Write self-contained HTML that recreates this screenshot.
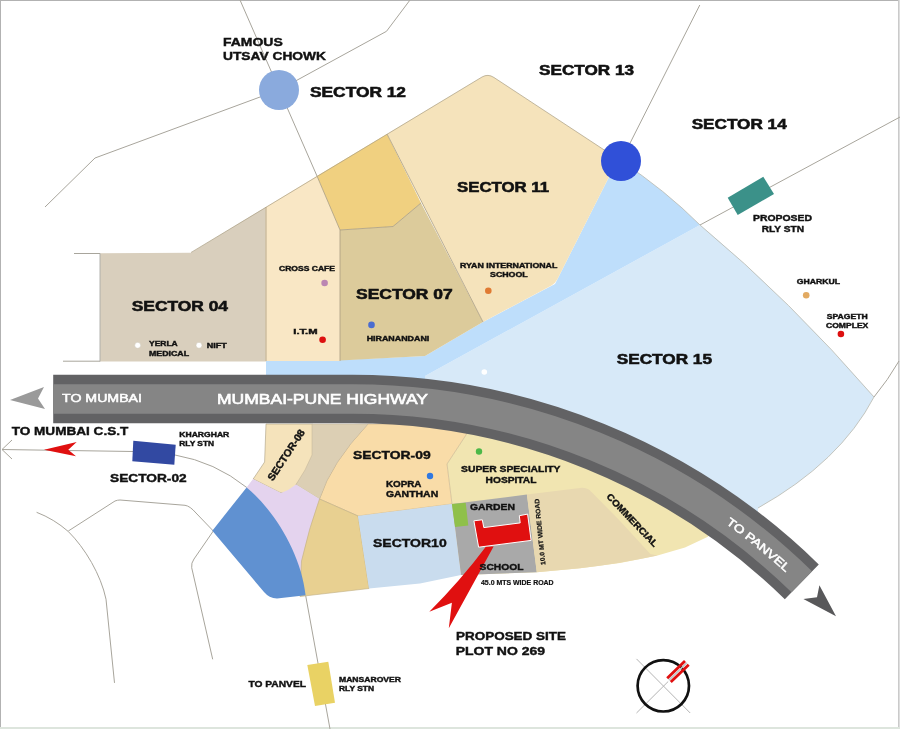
<!DOCTYPE html>
<html><head><meta charset="utf-8"><title>Location Map</title>
<style>
html,body{margin:0;padding:0;background:#fff;}
body{width:900px;height:729px;overflow:hidden;}
svg{display:block;font-family:"Liberation Sans",sans-serif;will-change:transform;}
</style></head><body>
<svg width="900" height="729" viewBox="0 0 900 729">
<rect x="0" y="0" width="900" height="729" fill="#ffffff"/>
<rect x="0" y="0" width="900" height="1" fill="#b2b2b2"/>
<rect x="0" y="0" width="1" height="729" fill="#b2b2b2"/>
<rect x="898" y="0" width="1" height="729" fill="#cacaca"/>
<rect x="899" y="0" width="1" height="729" fill="#dedede"/>
<rect x="0" y="727" width="900" height="2" fill="#dde5dd"/>
<path d="M45,207 L95,158 L279,90 L386.5,31.3 L410,0" fill="none" stroke="#a8a59c" stroke-width="1" />
<path d="M240,0 L317,176" fill="none" stroke="#a8a59c" stroke-width="1" />
<path d="M621,161 L699.8,5" fill="none" stroke="#a8a59c" stroke-width="1" />
<path d="M700,225 L900,117" fill="none" stroke="#a8a59c" stroke-width="1" />
<path d="M74,253.5 L100,253.5 M63,361.2 L100,361.2" fill="none" stroke="#a8a59c" stroke-width="1" />
<path d="M874,397 Q888,380 899,361" fill="none" stroke="#a8a59c" stroke-width="1" />
<path d="M36.6,512.3 Q54,519 68.3,531.5 C85,548 101,575 106,599.2 L114.5,682.9" fill="none" stroke="#a8a59c" stroke-width="1" />
<path d="M68.3,531 L115,501 Q117.5,500 120,500 L185,505.3 Q190,506 196,513 L213.3,531" fill="none" stroke="#a8a59c" stroke-width="1" />
<path d="M213.3,531 L194,559 Q191,563 191.7,567.7 L212.7,659.3" fill="none" stroke="#a8a59c" stroke-width="1" />
<path d="M2,449.5 L133,451.5 L175,455 Q215,462 246.6,487.4 C272,508 301,552 305.6,595.2 L330,729" fill="none" stroke="#a8a59c" stroke-width="1" />
<path d="M12,440 L2,449.5 L12,459" fill="none" stroke="#a8a59c" stroke-width="1" />
<path d="M425,376 L700,225 Q790,300 874,397 Q840,462 758,508 L758.0,542.8 A643,643 0 0 0 425.0,403.1 Z" fill="#d7e9f8" stroke="none" stroke-width="1" />
<path d="M700,225 Q790,300 874,397 Q840,462 758,508" fill="none" stroke="#b9b9ae" stroke-width="0.8" />
<path d="M621,161 Q665,190 700,225 L425,376 L425,392 L266,392 L266,361 L340,360 L425,356 L483,322 L555,284 L610,175 Z" fill="#bedefb" stroke="none" stroke-width="1" />
<path d="M621,161 Q665,190 700,225" fill="none" stroke="#b9b9ae" stroke-width="0.8" />
<polygon points="100.0,253.3 191.0,252.8 266.0,207.0 266.0,361.5 100.0,361.5" fill="#d9cfbd" stroke="none" stroke-width="0.5" />
<polygon points="265.5,207.3 317.0,176.0 340.0,230.0 340.0,361.0 265.5,361.0" fill="#f9e7c5" stroke="none" stroke-width="0.5" />
<polygon points="317.0,176.0 387.0,134.0 421.0,203.0 393.0,226.5 340.0,230.0" fill="#f0d080" stroke="none" stroke-width="0.5" />
<polygon points="340.0,230.0 393.0,226.5 421.0,203.0 483.0,322.0 425.0,356.0 340.0,360.5" fill="#dccb9b" stroke="none" stroke-width="0.5" />
<path d="M387,134 L482,77 Q488,73.5 494,77.5 L621,161 L610,175 L557.5,279 Q555.5,283 551.5,285.5 L483,322 Z" fill="#f5e3bb" stroke="none" stroke-width="1" />
<path d="M191,252.5 L482,77 Q488,73.5 494,77.5 L621,161" fill="none" stroke="#a99d82" stroke-width="0.7" />
<path d="M317,176 L340,230 L340,361 M387,134 L483,322 M421,203 L393,226.5 L340,230 M266,207 L266,361" fill="none" stroke="#a99d82" stroke-width="0.8" />
<path d="M100,253.3 L100,361.5" fill="none" stroke="#aaaaa6" stroke-width="0.9" />
<path d="M466,435 L447,464 L452,504 L461,575 L536.8,572.3 L580,568.2 L620,563 L657.5,555.6 L685,547.5 L707.9,536.7 L719.3,513.7 A643,643 0 0 0 470.0,409.8 Z" fill="#f1e5b1" stroke="none" stroke-width="1" />
<path d="M368,424 L470,424 L466,435 L447,464 L452,504 L358,516 L319.5,499 Q331,463 368,424 Z" fill="#f9dca8" stroke="#c4b089" stroke-width="0.6" />
<path d="M266,424 L312.5,424 L312.5,457 Q312.3,463 308.5,469 L295.5,485.5 Q288,496.5 279.5,492.3 L253.2,479 L264.6,462 Z" fill="#f5e3bb" stroke="#a99d82" stroke-width="0.6" />
<path d="M312,424 L368,424 Q331,463 319.5,499 L296,484.5 L305,470 L312,455 Z" fill="#dccfb4" stroke="#c0b296" stroke-width="0.5" />
<path d="M246.6,487.4 L253,479 L281,493 L288,490 L296,484.5 L319.5,499 L330,510 L312,578 L290,566 Z" fill="#e4d3ee" stroke="none" stroke-width="1" />
<path d="M319.5,499 L358,516 L369,588.5 L300,596.5 L301.5,561 Q309,528 319.5,499 Z" fill="#e8d091" stroke="#bfae84" stroke-width="0.6" />
<path d="M246.6,487.4 C272,508 301,552 305.6,595.2 L277,598.5 Q269,598 264,592 L212.3,530.7 Z" fill="#6091d1" stroke="none" stroke-width="1" />
<polygon points="358.0,516.0 452.0,504.0 461.0,575.0 420.0,583.6 369.0,588.5" fill="#c9dcee" stroke="none" stroke-width="0.5" />
<polygon points="452.0,504.0 526.9,494.5 536.8,572.3 461.0,575.0" fill="#a9a9a9" stroke="none" stroke-width="0.5" />
<path d="M526.9,494.5 L580,488 Q587,487.2 591,491.5 L620,521 L650.3,554 L657.5,555.4 Q620,563.5 580,568.2 L536.8,572.3 Z" fill="#e8d8b0" stroke="none" stroke-width="1" />
<polygon points="451.9,504.0 465.7,502.8 468.3,525.4 455.0,527.0" fill="#8fc04a" stroke="none" stroke-width="0.5" />
<path id="hw" d="M53.2,399.0 L352.7,399.0 A643,643 0 0 1 801.8,581.8" fill="none" stroke="#626264" stroke-width="48.6"/>
<path d="M53.2,399.0 L352.7,399.0 A643,643 0 0 1 801.8,581.8" fill="none" stroke="#858585" stroke-width="29.4"/>
<polygon points="10.0,400.0 44.0,387.0 38.0,398.5 45.0,409.0" fill="#9a9a9a" stroke="none" stroke-width="0.5" />
<polygon points="819.4,585.2 836.0,616.2 803.4,599.1 817.0,597.3" fill="#58585a" stroke="none" stroke-width="0.5" />
<polygon points="133.3,440.7 175.7,444.7 174.3,464.7 132.3,461.3" fill="#3249a2" stroke="none" stroke-width="0.5" />
<polygon points="727.7,197.7 763.3,176.7 774.0,194.0 737.7,215.0" fill="#3b9189" stroke="none" stroke-width="0.5" />
<polygon points="307.3,665.0 328.3,661.7 335.0,702.7 315.0,706.0" fill="#e9d264" stroke="none" stroke-width="0.5" />
<polygon points="44.0,449.7 76.7,442.0 68.3,449.7 76.0,456.3" fill="#e01010" stroke="none" stroke-width="0.5" />
<circle cx="279.0" cy="90.0" r="20" fill="#8aaadd" stroke="none" stroke-width="0.5"/>
<circle cx="621.0" cy="161.0" r="20" fill="#3050d8" stroke="none" stroke-width="0.5"/>
<circle cx="324.6" cy="283.0" r="3.3" fill="#bb86b2" stroke="none" stroke-width="0.5"/>
<circle cx="322.6" cy="339.7" r="3.3" fill="#dd1010" stroke="none" stroke-width="0.5"/>
<circle cx="371.5" cy="324.9" r="3.3" fill="#4a6cd0" stroke="none" stroke-width="0.5"/>
<circle cx="488.3" cy="290.7" r="3.3" fill="#e07a32" stroke="none" stroke-width="0.5"/>
<circle cx="484.3" cy="372.0" r="2.8" fill="#ffffff" stroke="none" stroke-width="0.5"/>
<circle cx="137.7" cy="345.3" r="3" fill="#ffffff" stroke="#c9c2b2" stroke-width="0.5"/>
<circle cx="199.0" cy="345.3" r="3" fill="#ffffff" stroke="#c9c2b2" stroke-width="0.5"/>
<circle cx="806.2" cy="295.2" r="3.3" fill="#e2aa62" stroke="none" stroke-width="0.5"/>
<circle cx="840.9" cy="334.0" r="3.3" fill="#dd1010" stroke="none" stroke-width="0.5"/>
<circle cx="479.0" cy="451.5" r="3.2" fill="#4cb848" stroke="none" stroke-width="0.5"/>
<circle cx="430.0" cy="476.0" r="3.2" fill="#3078e0" stroke="none" stroke-width="0.5"/>
<path d="M486,546.5 Q461,580 429.3,611.7 L451.9,602.7 L448.8,628.2 L493.6,546.5 Z" fill="#e01010" stroke="none" stroke-width="1" />
<polygon points="473.9,520.8 482.3,519.8 483.8,527.6 520.2,522.9 519.3,515.7 527.6,514.1 531.1,540.4 478.6,547.2" fill="#e01010" stroke="#ffffff" stroke-width="1" />
<path d="M636.5,658.9 L690.2,713 M636.5,713 L668.2,681.5" fill="none" stroke="#b4b4b4" stroke-width="1" />
<circle cx="663.3" cy="685.8" r="25.7" fill="none" stroke="#111" stroke-width="2.7"/>
<path d="M669,680.1 L686.8,662.8" fill="none" stroke="#bcc8c8" stroke-width="1.6" />
<path d="M667.2,678.3 L685,661 M670.8,682 L688.7,664.7" fill="none" stroke="#e01010" stroke-width="2.8" />
<text x="223.0" y="45.8" font-size="10.90" font-weight="bold" fill="#111" stroke="#111" stroke-width="0.4" textLength="59.7" lengthAdjust="spacingAndGlyphs">FAMOUS</text>
<text x="223.0" y="60.1" font-size="10.90" font-weight="bold" fill="#111" stroke="#111" stroke-width="0.4" textLength="103.0" lengthAdjust="spacingAndGlyphs">UTSAV CHOWK</text>
<text x="310.0" y="97.4" font-size="13.81" font-weight="bold" fill="#111" stroke="#111" stroke-width="0.55" textLength="96.0" lengthAdjust="spacingAndGlyphs">SECTOR 12</text>
<text x="539.0" y="74.5" font-size="13.81" font-weight="bold" fill="#111" stroke="#111" stroke-width="0.55" textLength="95.0" lengthAdjust="spacingAndGlyphs">SECTOR 13</text>
<text x="691.7" y="128.5" font-size="13.81" font-weight="bold" fill="#111" stroke="#111" stroke-width="0.55" textLength="95.0" lengthAdjust="spacingAndGlyphs">SECTOR 14</text>
<text x="457.0" y="192.2" font-size="13.81" font-weight="bold" fill="#111" stroke="#111" stroke-width="0.55" textLength="92.0" lengthAdjust="spacingAndGlyphs">SECTOR 11</text>
<text x="356.0" y="298.5" font-size="13.81" font-weight="bold" fill="#111" stroke="#111" stroke-width="0.55" textLength="96.7" lengthAdjust="spacingAndGlyphs">SECTOR 07</text>
<text x="131.7" y="310.5" font-size="13.81" font-weight="bold" fill="#111" stroke="#111" stroke-width="0.55" textLength="96.3" lengthAdjust="spacingAndGlyphs">SECTOR 04</text>
<text x="616.7" y="364.2" font-size="13.81" font-weight="bold" fill="#111" stroke="#111" stroke-width="0.55" textLength="95.3" lengthAdjust="spacingAndGlyphs">SECTOR 15</text>
<text x="279.0" y="271.0" font-size="6.98" font-weight="bold" fill="#111" stroke="#111" stroke-width="0.4" textLength="56.0" lengthAdjust="spacingAndGlyphs">CROSS CAFE</text>
<text x="293.3" y="334.0" font-size="6.98" font-weight="bold" fill="#111" stroke="#111" stroke-width="0.4" textLength="24.3" lengthAdjust="spacingAndGlyphs">I.T.M</text>
<text x="366.7" y="340.7" font-size="6.98" font-weight="bold" fill="#111" stroke="#111" stroke-width="0.4" textLength="62.6" lengthAdjust="spacingAndGlyphs">HIRANANDANI</text>
<text x="460.0" y="268.0" font-size="6.98" font-weight="bold" fill="#111" stroke="#111" stroke-width="0.4" textLength="97.3" lengthAdjust="spacingAndGlyphs">RYAN INTERNATIONAL</text>
<text x="490.0" y="277.0" font-size="6.98" font-weight="bold" fill="#111" stroke="#111" stroke-width="0.4" textLength="37.7" lengthAdjust="spacingAndGlyphs">SCHOOL</text>
<text x="149.0" y="346.3" font-size="6.98" font-weight="bold" fill="#111" stroke="#111" stroke-width="0.4" textLength="28.7" lengthAdjust="spacingAndGlyphs">YERLA</text>
<text x="149.0" y="355.7" font-size="6.98" font-weight="bold" fill="#111" stroke="#111" stroke-width="0.4" textLength="40.0" lengthAdjust="spacingAndGlyphs">MEDICAL</text>
<text x="206.7" y="348.0" font-size="6.98" font-weight="bold" fill="#111" stroke="#111" stroke-width="0.4" textLength="20.0" lengthAdjust="spacingAndGlyphs">NIFT</text>
<text x="62.0" y="402.0" font-size="11.05" font-weight="normal" fill="#fff" stroke="#fff" stroke-width="0.5" textLength="80.0" lengthAdjust="spacingAndGlyphs">TO MUMBAI</text>
<text x="217.0" y="404.0" font-size="13.95" font-weight="normal" fill="#fff" stroke="#fff" stroke-width="0.6" textLength="211.0" lengthAdjust="spacingAndGlyphs">MUMBAI-PUNE HIGHWAY</text>
<text x="11.7" y="435.3" font-size="11.34" font-weight="bold" fill="#111" stroke="#111" stroke-width="0.4" textLength="116.6" lengthAdjust="spacingAndGlyphs">TO MUMBAI C.S.T</text>
<text x="179.3" y="437.0" font-size="6.98" font-weight="bold" fill="#111" stroke="#111" stroke-width="0.4" textLength="50.0" lengthAdjust="spacingAndGlyphs">KHARGHAR</text>
<text x="179.3" y="445.7" font-size="6.98" font-weight="bold" fill="#111" stroke="#111" stroke-width="0.4" textLength="34.7" lengthAdjust="spacingAndGlyphs">RLY STN</text>
<text x="110.0" y="482.3" font-size="11.05" font-weight="bold" fill="#111" stroke="#111" stroke-width="0.4" textLength="76.7" lengthAdjust="spacingAndGlyphs">SECTOR-02</text>
<text transform="translate(272.8,481.5) rotate(-56.5)" x="0" y="0" font-size="10.17" font-weight="bold" fill="#111" stroke="#111" stroke-width="0.4" textLength="59.0" lengthAdjust="spacingAndGlyphs">SECTOR-08</text>
<text x="353.0" y="458.6" font-size="11.34" font-weight="bold" fill="#111" stroke="#111" stroke-width="0.4" textLength="77.7" lengthAdjust="spacingAndGlyphs">SECTOR-09</text>
<text x="385.9" y="486.9" font-size="9.16" font-weight="bold" fill="#111" stroke="#111" stroke-width="0.4" textLength="35.6" lengthAdjust="spacingAndGlyphs">KOPRA</text>
<text x="385.9" y="497.1" font-size="9.16" font-weight="bold" fill="#111" stroke="#111" stroke-width="0.4" textLength="52.3" lengthAdjust="spacingAndGlyphs">GANTHAN</text>
<text x="373.0" y="546.7" font-size="11.63" font-weight="bold" fill="#111" stroke="#111" stroke-width="0.4" textLength="73.7" lengthAdjust="spacingAndGlyphs">SECTOR10</text>
<text x="470.0" y="510.0" font-size="9.30" font-weight="bold" fill="#111" stroke="#111" stroke-width="0.4" textLength="45.0" lengthAdjust="spacingAndGlyphs">GARDEN</text>
<text x="479.6" y="570.0" font-size="9.30" font-weight="bold" fill="#111" stroke="#111" stroke-width="0.4" textLength="43.9" lengthAdjust="spacingAndGlyphs">SCHOOL</text>
<text x="481.0" y="584.6" font-size="6.54" font-weight="bold" fill="#111" stroke="#111" stroke-width="0.2" textLength="72.6" lengthAdjust="spacingAndGlyphs">45.0 MTS WIDE ROAD</text>
<text x="461.0" y="472.0" font-size="9.16" font-weight="bold" fill="#111" stroke="#111" stroke-width="0.4" textLength="99.5" lengthAdjust="spacingAndGlyphs">SUPER SPECIALITY</text>
<text x="485.6" y="482.5" font-size="9.16" font-weight="bold" fill="#111" stroke="#111" stroke-width="0.4" textLength="50.8" lengthAdjust="spacingAndGlyphs">HOSPITAL</text>
<text transform="translate(545.4,564.8) rotate(-95.6)" x="0" y="0" font-size="6.54" font-weight="bold" fill="#111" stroke="#111" stroke-width="0.2" textLength="66.5" lengthAdjust="spacingAndGlyphs">10.0 MT WIDE ROAD</text>
<text transform="translate(606.1,497.1) rotate(46.5)" x="0" y="0" font-size="9.16" font-weight="bold" fill="#111" stroke="#111" stroke-width="0.4" textLength="69.5" lengthAdjust="spacingAndGlyphs">COMMERCIAL</text>
<text dy="4.4" font-size="11.4" font-weight="normal" fill="#fff" stroke="#fff" stroke-width="0.5"><textPath href="#hw" startOffset="700.5" textLength="78" lengthAdjust="spacingAndGlyphs">TO PANVEL</textPath></text>
<text x="753.0" y="221.0" font-size="8.87" font-weight="bold" fill="#111" stroke="#111" stroke-width="0.4" textLength="59.0" lengthAdjust="spacingAndGlyphs">PROPOSED</text>
<text x="761.7" y="231.7" font-size="8.87" font-weight="bold" fill="#111" stroke="#111" stroke-width="0.4" textLength="42.3" lengthAdjust="spacingAndGlyphs">RLY STN</text>
<text x="796.7" y="283.7" font-size="6.98" font-weight="bold" fill="#111" stroke="#111" stroke-width="0.4" textLength="43.3" lengthAdjust="spacingAndGlyphs">GHARKUL</text>
<text x="826.7" y="318.7" font-size="6.98" font-weight="bold" fill="#111" stroke="#111" stroke-width="0.4" textLength="41.0" lengthAdjust="spacingAndGlyphs">SPAGETH</text>
<text x="826.0" y="328.0" font-size="6.98" font-weight="bold" fill="#111" stroke="#111" stroke-width="0.4" textLength="42.3" lengthAdjust="spacingAndGlyphs">COMPLEX</text>
<text x="456.0" y="639.7" font-size="11.34" font-weight="bold" fill="#111" stroke="#111" stroke-width="0.4" textLength="110.0" lengthAdjust="spacingAndGlyphs">PROPOSED SITE</text>
<text x="455.7" y="654.6" font-size="11.34" font-weight="bold" fill="#111" stroke="#111" stroke-width="0.4" textLength="89.3" lengthAdjust="spacingAndGlyphs">PLOT NO 269</text>
<text x="248.4" y="686.5" font-size="9.01" font-weight="bold" fill="#111" stroke="#111" stroke-width="0.4" textLength="57.6" lengthAdjust="spacingAndGlyphs">TO PANVEL</text>
<text x="339.0" y="682.0" font-size="6.98" font-weight="bold" fill="#111" stroke="#111" stroke-width="0.4" textLength="62.0" lengthAdjust="spacingAndGlyphs">MANSAROVER</text>
<text x="339.0" y="691.0" font-size="6.98" font-weight="bold" fill="#111" stroke="#111" stroke-width="0.4" textLength="35.0" lengthAdjust="spacingAndGlyphs">RLY STN</text>
</svg>
</body></html>
